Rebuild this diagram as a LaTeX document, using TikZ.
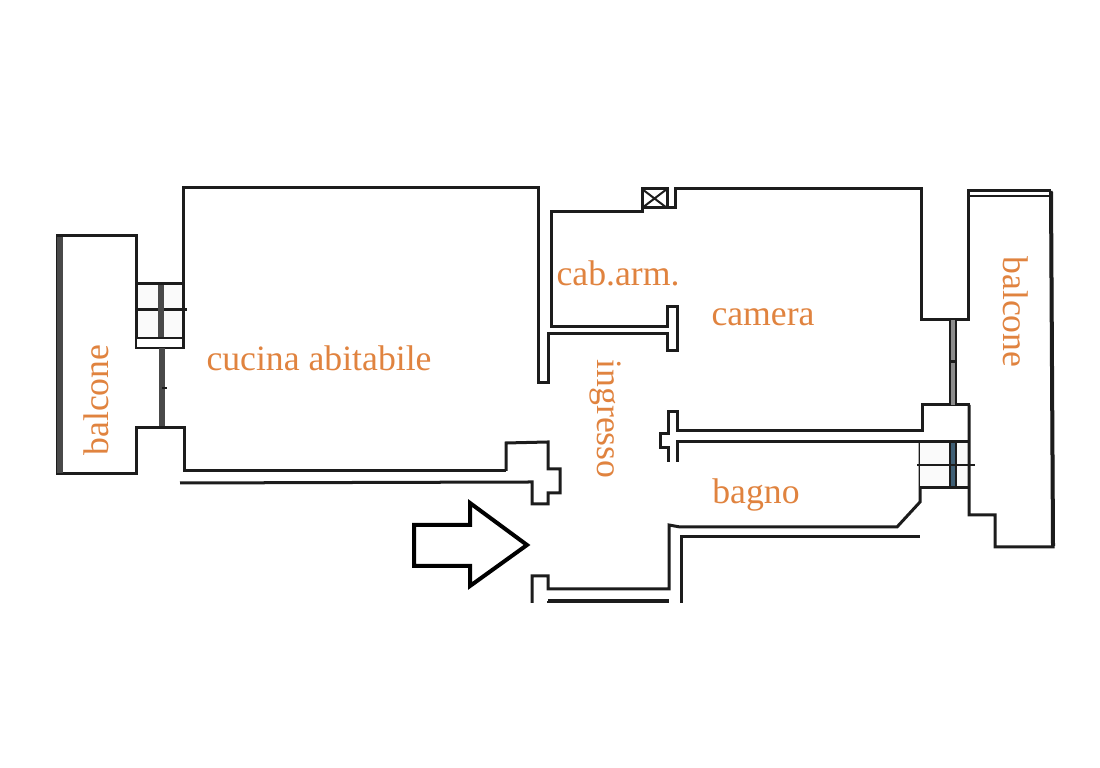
\documentclass[tikz,border=0pt]{standalone}
\usepackage{fontspec}
\setmainfont{Liberation Serif}
\definecolor{labelorange}{HTML}{E0833F}
\definecolor{walldark}{HTML}{1C1C1C}
\definecolor{frameblue}{HTML}{3F5F75}
\tikzset{
    wall/.style={draw=walldark, line width=0.03cm, line join=miter},
    thinwall/.style={draw=walldark, line width=0.02cm},
    thickwall/.style={draw=walldark!80, line width=0.06cm},
    windowbar/.style={draw=walldark, line width=0.02cm, double=black!45, double distance=0.035cm},
    roomlabel/.style={text=labelorange, font=\fontsize{10.15pt}{12pt}\selectfont, inner sep=0pt}
}
\begin{document}
\begin{tikzpicture}[x=0.01cm, y=-0.01cm]
    \useasboundingbox (0,0) rectangle (1100,768);
    % Left window block
    \draw[wall, fill=black!2] (136,284) rectangle (183,348);
    \fill[white] (137,339) rectangle (182,347);
    \draw[thinwall] (136,338) -- (183,338);
    \draw[wall] (135,310) -- (187,310);
    \draw[thickwall] (161,285) -- (161,337);
    \draw[thickwall] (162,348) -- (162,428);
    \draw[thinwall] (162,388) -- (167,388);
    % Left balcony
    \draw[wall] (136,284) -- (136,236) -- (58,236) -- (58,474) -- (136,474) -- (136,428) -- (184,428) -- (184,471) -- (506,471);
    \draw[thickwall] (60,237) -- (60,473);
    % Kitchen top wall and dividing wall
    \draw[wall] (183,284) -- (183,188) -- (538,188) -- (538,383) -- (548,383) -- (548,334) -- (667,334) -- (667,351) -- (677,351) -- (677,307) -- (667,307) -- (667,327) -- (551,327) -- (551,212) -- (642,212) -- (642,208) -- (675,208) -- (675,189) -- (921,189) -- (921,320) -- (968,320) -- (968,191) -- (1051,191);
    % Shaft
    \draw[wall] (642,189) rectangle (667,208);
    \draw[thinwall] (642,189) -- (667,208) (642,208) -- (667,189);
    \draw[wall] (667,189) -- (667,208);
    % Entrance wall pier
    \draw[wall] (506,471) -- (506,443) -- (548,442) -- (548,469) -- (560,469) -- (560,493) -- (548,493) -- (548,504) -- (532,504) -- (532,482) -- (180,483);
    % Door on the entrance side
    \draw[wall] (532,603) -- (532,576) -- (548,576) -- (548,589) -- (669,589) -- (669,525) -- (680,527) -- (897,527) -- (920,502) -- (920,442);
    \draw[wall] (548,603) -- (548,601);
    \draw[wall, line width=0.04cm] (548,601) -- (669,601);
    \draw[wall] (681,603) -- (681,537) -- (920,537);
    % Wall between camera and bagno
    \draw[wall] (668,462) -- (668,448) -- (660,448) -- (660,434) -- (668,434) -- (668,412) -- (677,412) -- (677,431) -- (922,431) -- (922,405) -- (970,405);
    \draw[wall] (677,462) -- (677,442) -- (969,442);
    % Right windows
    \fill[black!2] (920,443) rectangle (968,487);
    \draw[windowbar] (953,320) -- (953,405);
    \draw[wall] (949,362) -- (957,362);
    \draw[windowbar, double=frameblue] (953,443) -- (953,487);
    \draw[wall] (920,488) -- (969,488);
    \draw[thinwall] (917,465) -- (975,465);
    % Right balcony
    \draw[wall] (969,405) -- (969,515) -- (995,515) -- (995,547) -- (1053,547) -- (1051,191);
    \draw[thinwall] (968,196) -- (1051,196);
    \draw[wall, line width=0.04cm] (1051,192) -- (1053,546);
    % Entrance arrow
    \draw[line width=0.04cm, line join=miter] (414,525) -- (470,525) -- (470,503) -- (527,545) -- (470,586) -- (470,566) -- (414,566) -- cycle;
    % Labels
    \node[roomlabel, rotate=90] (balconeleft) at (96,400) {balcone};
    \node[roomlabel] (cucina) at (319,358) {cucina abitabile};
    \node[roomlabel] (cabarm) at (618,273) {cab.arm.};
    \node[roomlabel] (camera) at (763,317) {camera};
    \node[roomlabel] (bagno) at (756,495) {bagno};
    \node[roomlabel, rotate=-90] (ingresso) at (605,419) {ingresso};
    \node[roomlabel, rotate=-90] (balconeright) at (1016,312) {balcone};
\end{tikzpicture}
\end{document}
